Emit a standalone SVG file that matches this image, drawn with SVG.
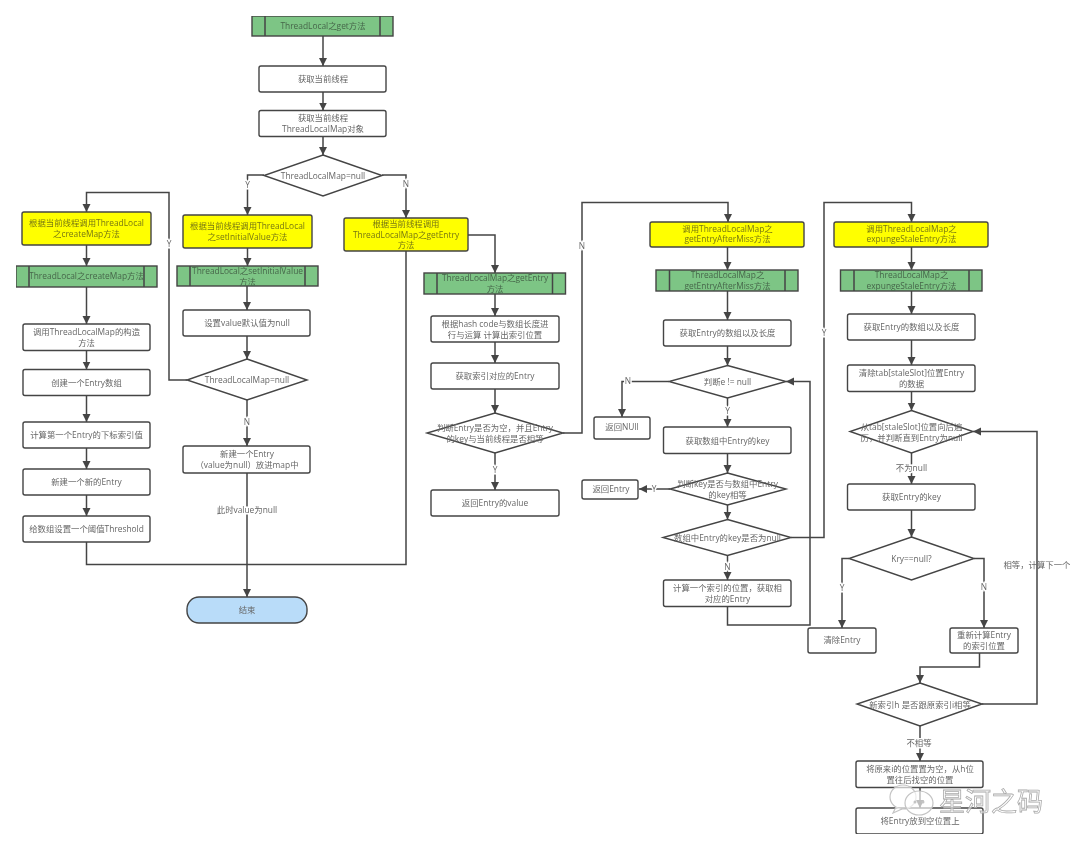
<svg xmlns="http://www.w3.org/2000/svg" width="1080" height="850" viewBox="0 0 1080 850">
<style>
text{font-family:"Open Sans","Noto Sans CJK SC",sans-serif;font-size:8.4px;fill:#666;text-anchor:middle;transform:translateY(-.7px)}
.n{fill:#fff;stroke:#444;stroke-width:1.4}
.y{fill:#ffff00;stroke:#444;stroke-width:1.4}
.yt{fill:#77770f}
.g{fill:#7dc585;stroke:#444;stroke-width:1.4}
.gt{fill:#46664a}
.b{fill:#b9dcf9;stroke:#444;stroke-width:1.4}
.c{fill:none;stroke:#444;stroke-width:1.5;marker-end:url(#a)}
.p{fill:none;stroke:#444;stroke-width:1.5}
.l{paint-order:stroke;stroke:#fff;stroke-width:3px}
.wm{font-size:26px;fill:#fff;fill-opacity:.6;stroke:#aaa;stroke-width:.8;font-family:"Noto Sans CJK SC",sans-serif;transform:none}
.w{fill:#fff;fill-opacity:.65;stroke:#c4c4c4;stroke-width:1.200}
</style>
<defs>
<marker id="a" markerUnits="userSpaceOnUse" markerWidth="9" markerHeight="9" refX="8" refY="4" orient="auto"><path d="M0,0L8,4L0,8Z" fill="#444"/></marker>
<filter id="s" x="0" y="0" width="1" height="1"><feGaussianBlur stdDeviation="0.5"/></filter>
</defs>
<rect width="1080" height="850" fill="#fff"/>
<g filter="url(#s)">
<g id="connectors">
<path class="c" d="M323 36V66"/>
<path class="c" d="M323 92V110.500"/>
<path class="c" d="M323 136.500V155"/>
<path class="c" d="M264 175H247.500V215"/>
<path class="c" d="M382 175H406V218"/>
<path class="c" d="M247.500 248V266"/>
<path class="c" d="M247 286V310"/>
<path class="c" d="M247 336V359"/>
<path class="c" d="M247 400V446"/>
<path class="c" d="M247 473V597"/>
<path class="c" d="M187 380H169V192.500H86.500V212"/>
<path class="c" d="M86.500 245V266"/>
<path class="c" d="M86.500 287V324"/>
<path class="c" d="M86.500 350.500V369.500"/>
<path class="c" d="M86.500 395.500V422"/>
<path class="c" d="M86.500 448V469"/>
<path class="c" d="M86.500 495V516"/>
<path class="p" d="M86.500 542V564.500H406V251"/>
<path class="c" d="M468 235H495V273"/>
<path class="c" d="M495 294V316"/>
<path class="c" d="M495 342V363"/>
<path class="c" d="M495 389V413"/>
<path class="c" d="M495 453V490"/>
<path class="c" d="M563 433H582V202.500H728V222"/>
<path class="c" d="M727.500 247V270"/>
<path class="c" d="M727.500 291V320"/>
<path class="c" d="M727.500 346V365.500"/>
<path class="c" d="M669 381.500H622V417"/>
<path class="c" d="M727.500 398V427"/>
<path class="c" d="M727.500 453.500V473"/>
<path class="c" d="M670 489H639"/>
<path class="c" d="M727.500 505V519.500"/>
<path class="c" d="M727.500 555.500V580"/>
<path class="c" d="M791 537.500H824V202.500H911.500V222"/>
<path class="c" d="M727.500 606.500V625H810V381.500H786"/>
<path class="c" d="M911.500 247V270"/>
<path class="c" d="M911.500 291V314"/>
<path class="c" d="M911.500 340V365"/>
<path class="c" d="M911.500 391.500V410.500"/>
<path class="c" d="M911.500 453V484"/>
<path class="c" d="M911.500 510V537"/>
<path class="c" d="M849 558.500H842V628"/>
<path class="c" d="M974 558.500H984V628"/>
<path class="c" d="M979.500 653V667H920V683"/>
<path class="c" d="M982 704H1037V431.500H973"/>
<path class="c" d="M920 726V761"/>
<path class="c" d="M920 787.500V808"/>
<text class="l" x="247.500" y="189">Y</text>
<text class="l" x="406" y="188">N</text>
<text class="l" x="169" y="248">Y</text>
<text class="l" x="247" y="426">N</text>
<text class="l" x="247" y="514">此时value为null</text>
<text class="l" x="495" y="474">Y</text>
<text class="l" x="582" y="250">N</text>
<text class="l" x="628" y="385">N</text>
<text class="l" x="727.500" y="415">Y</text>
<text class="l" x="654" y="493">Y</text>
<text class="l" x="727.500" y="571">N</text>
<text class="l" x="824" y="337">Y</text>
<text class="l" x="911.500" y="472">不为null</text>
<text class="l" x="842" y="592">Y</text>
<text class="l" x="984" y="591">N</text>
<text x="1037" y="569">相等，计算下一个</text>
<text class="l" x="919" y="747">不相等</text>
</g>
<g id="start"><rect class="g" x="252" y="16" width="141" height="20"/><path class="p" d="M265 16V36M380 16V36"/><text class="gt" x="323" y="30">ThreadLocal之get方法</text></g>
<g id="n1"><rect class="n" x="259" y="66" width="127" height="26" rx="2"/><text x="323" y="83">获取当前线程</text></g>
<g id="n2"><rect class="n" x="259" y="110.500" width="127" height="26" rx="2"/><text x="323" y="122">获取当前线程</text><text x="323" y="132.500">ThreadLocalMap对象</text></g>
<g id="d1"><path class="n" d="M323 155L382 175.500L323 196L264 175.500Z"/><text x="323" y="180">ThreadLocalMap=null</text></g>
<g id="ya"><rect class="y" x="183" y="215" width="129" height="33" rx="2"/><text class="yt" x="247.500" y="230">根据当前线程调用ThreadLocal</text><text class="yt" x="247.500" y="241">之setInitialValue方法</text></g>
<g id="ga"><rect class="g" x="177" y="266" width="141" height="20"/><path class="p" d="M190 266V286M305 266V286"/><text class="gt" x="247.500" y="275">ThreadLocal之setInitialValue</text><text class="gt" x="247.500" y="286">方法</text></g>
<g id="a1"><rect class="n" x="183" y="310" width="127" height="26" rx="2"/><text x="247" y="327">设置value默认值为null</text></g>
<g id="d2"><path class="n" d="M247 359L307 380L247 400L187 380Z"/><text x="247" y="384">ThreadLocalMap=null</text></g>
<g id="a2"><rect class="n" x="183" y="446" width="127" height="27" rx="2"/><text x="247" y="458">新建一个Entry</text><text x="247" y="469">（value为null）放进map中</text></g>
<g id="end"><rect class="b" x="187" y="597" width="120" height="26" rx="12"/><text x="247" y="614">结束</text></g>
<g id="yl"><rect class="y" x="22" y="212" width="129" height="33" rx="2"/><text class="yt" x="86.500" y="227">根据当前线程调用ThreadLocal</text><text class="yt" x="86.500" y="238">之createMap方法</text></g>
<g id="gl"><rect class="g" x="16" y="266" width="141" height="21"/><path class="p" d="M29 266V287M144 266V287"/><text class="gt" x="86.500" y="280">ThreadLocal之createMap方法</text></g>
<g id="l1"><rect class="n" x="23" y="324" width="127" height="26.500" rx="2"/><text x="86.500" y="336">调用ThreadLocalMap的构造</text><text x="86.500" y="346.500">方法</text></g>
<g id="l2"><rect class="n" x="23" y="369.500" width="127" height="26" rx="2"/><text x="86.500" y="386.500">创建一个Entry数组</text></g>
<g id="l3"><rect class="n" x="23" y="422" width="127" height="26" rx="2"/><text x="86.500" y="439">计算第一个Entry的下标索引值</text></g>
<g id="l4"><rect class="n" x="23" y="469" width="127" height="26" rx="2"/><text x="86.500" y="486">新建一个新的Entry</text></g>
<g id="l5"><rect class="n" x="23" y="516" width="127" height="26" rx="2"/><text x="86.500" y="533">给数组设置一个阈值Threshold</text></g>
<g id="yc"><rect class="y" x="344" y="218" width="124" height="33" rx="2"/><text class="yt" x="406" y="228">根据当前线程调用</text><text class="yt" x="406" y="238.500">ThreadLocalMap之getEntry</text><text class="yt" x="406" y="249">方法</text></g>
<g id="gc"><rect class="g" x="424" y="273" width="141.500" height="21"/><path class="p" d="M437 273V294M552.500 273V294"/><text class="gt" x="495" y="282">ThreadLocalMap之getEntry</text><text class="gt" x="495" y="293">方法</text></g>
<g id="c1"><rect class="n" x="431" y="316" width="128" height="26" rx="2"/><text x="495" y="328">根据hash code与数组长度进</text><text x="495" y="339">行与运算 计算出索引位置</text></g>
<g id="c2"><rect class="n" x="431" y="363" width="128" height="26" rx="2"/><text x="495" y="380">获取索引对应的Entry</text></g>
<g id="d3"><path class="n" d="M495 413L563 433L495 453L427 433Z"/><text x="495" y="432">判断Entry是否为空，并且Entry</text><text x="495" y="442.500">的key与当前线程是否相等</text></g>
<g id="c3"><rect class="n" x="431" y="490" width="128" height="26" rx="2"/><text x="495" y="507">返回Entry的value</text></g>
<g id="yd"><rect class="y" x="650" y="222" width="154" height="25" rx="2"/><text class="yt" x="727.500" y="232.500">调用ThreadLocalMap之</text><text class="yt" x="727.500" y="243">getEntryAfterMiss方法</text></g>
<g id="gd"><rect class="g" x="656" y="270" width="142" height="21"/><path class="p" d="M669.500 270V291M785 270V291"/><text class="gt" x="727.500" y="279">ThreadLocalMap之</text><text class="gt" x="727.500" y="289.500">getEntryAfterMiss方法</text></g>
<g id="e1"><rect class="n" x="663.500" y="320" width="127.500" height="26" rx="2"/><text x="727.500" y="337">获取Entry的数组以及长度</text></g>
<g id="d4"><path class="n" d="M727.500 365.500L786 381.500L727.500 398L669 381.500Z"/><text x="727.500" y="385.500">判断e != null</text></g>
<g id="e2"><rect class="n" x="594" y="417" width="56" height="22" rx="2"/><text x="622" y="430.500">返回NUll</text></g>
<g id="e3"><rect class="n" x="663.500" y="427" width="127.500" height="26.500" rx="2"/><text x="727.500" y="444.500">获取数组中Entry的key</text></g>
<g id="d5"><path class="n" d="M727.500 473L786 489L727.500 505L670 489Z"/><text x="727.500" y="488">判断key是否与数组中Entry</text><text x="727.500" y="498.500">的key相等</text></g>
<g id="e4"><rect class="n" x="582" y="480" width="56" height="19" rx="2"/><text x="611" y="493">返回Entry</text></g>
<g id="d6"><path class="n" d="M727.500 519.500L791 537.500L727.500 555.500L663 537.500Z"/><text x="727.500" y="541.500">数组中Entry的key是否为null</text></g>
<g id="e5"><rect class="n" x="663.500" y="580" width="127.500" height="26.500" rx="2"/><text x="727.500" y="592">计算一个索引的位置，获取相</text><text x="727.500" y="602.500">对应的Entry</text></g>
<g id="ye"><rect class="y" x="834" y="222" width="154" height="25" rx="2"/><text class="yt" x="911.500" y="232.500">调用ThreadLocalMap之</text><text class="yt" x="911.500" y="243">expungeStaleEntry方法</text></g>
<g id="ge"><rect class="g" x="840.500" y="270" width="141.500" height="21"/><path class="p" d="M854 270V291M969 270V291"/><text class="gt" x="911.500" y="279">ThreadLocalMap之</text><text class="gt" x="911.500" y="289.500">expungeStaleEntry方法</text></g>
<g id="f1"><rect class="n" x="847.500" y="314" width="127.500" height="26" rx="2"/><text x="911.500" y="331">获取Entry的数组以及长度</text></g>
<g id="f2"><rect class="n" x="847.500" y="365" width="127.500" height="26.500" rx="2"/><text x="911.500" y="377">清除tab[staleSlot]位置Entry</text><text x="911.500" y="387.500">的数据</text></g>
<g id="d7"><path class="n" d="M911.500 410.500L973 431.500L911.500 453L850 431.500Z"/><text x="911.500" y="431">从tab[staleSlot]位置向后遍</text><text x="911.500" y="441.500">历，并判断直到Entry为null</text></g>
<g id="f3"><rect class="n" x="847.500" y="484" width="127.500" height="26" rx="2"/><text x="911.500" y="501">获取Entry的key</text></g>
<g id="d8"><path class="n" d="M911.500 537L974 558.500L911.500 580L849 558.500Z"/><text x="911.500" y="562.500">Kry==null?</text></g>
<g id="f4"><rect class="n" x="808" y="628" width="68" height="25" rx="2"/><text x="842" y="644">清除Entry</text></g>
<g id="f5"><rect class="n" x="950" y="628" width="68" height="25" rx="2"/><text x="984" y="639">重新计算Entry</text><text x="984" y="649.500">的索引位置</text></g>
<g id="d9"><path class="n" d="M920 683L982 704L920 726L857 704Z"/><text x="920" y="708.500">新索引h 是否跟原索引i相等</text></g>
<g id="f6"><rect class="n" x="856" y="761" width="127" height="26.500" rx="2"/><text x="920" y="773">将原来i的位置置为空，从h位</text><text x="920" y="783.500">置往后找空的位置</text></g>
<g id="f7"><rect class="n" x="856" y="808" width="127" height="26" rx="2"/><text x="920" y="825">将Entry放到空位置上</text></g>
</g>
<g id="watermark">
<ellipse class="w" cx="903" cy="797" rx="13" ry="12"/>
<path class="w" d="M896 807L893 813L902 809"/>
<ellipse class="w" cx="919" cy="803" rx="14" ry="12"/>
<circle cx="915" cy="802" r="1.500" fill="#c4c4c4"/><circle cx="923" cy="802" r="1.500" fill="#c4c4c4"/>
<text class="wm" x="991" y="811">星河之码</text>
</g>
</svg>
